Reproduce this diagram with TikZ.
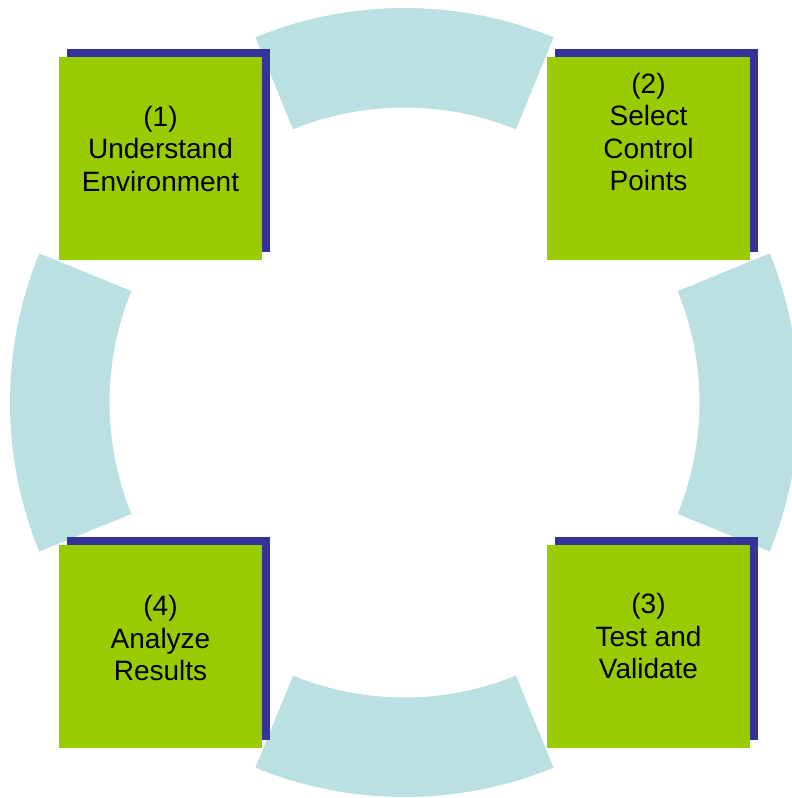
\documentclass[tikz,border=0pt]{standalone}
\usepackage{fontspec}
\setmainfont{Liberation Sans}
\usetikzlibrary{calc}
\definecolor{boxgreen}{HTML}{99CC00}
\definecolor{boxshadow}{HTML}{333399}
\definecolor{ringblue}{HTML}{BAE0E3}
\newcommand{\steplines}[1]{\vtop{\baselineskip=32.5pt\lineskiplimit=-100pt\halign{\hfil##\hfil\cr#1\cr}}}
\begin{document}
\begin{tikzpicture}[x=1pt,y=1pt,
  shadowbox/.style={fill=boxshadow, draw=none, minimum width=203pt, minimum height=203pt, inner sep=0pt},
  greenbox/.style={fill=boxgreen, draw=none, minimum width=203pt, minimum height=203pt, inner sep=0pt},
  steptext/.style={anchor=base, inner sep=0pt, font=\fontsize{28}{32.5}\selectfont, text=black},
  ringseg/.style={fill=ringblue, draw=none}]
\useasboundingbox (0,0) rectangle (792,798);
\fill[white] (0,0) rectangle (792,798);
\coordinate (C) at (404.5,395.5);
% ring segments
\foreach \a/\nm in {90/top,0/right,270/bottom,180/left}{
  \fill[ringseg] ($(C)+(\a-22.2:394.5pt)$) arc[start angle=\a-22.2, end angle=\a+22.2, radius=394.5pt]
    -- ($(C)+(\a+22.2:295pt)$) arc[start angle=\a+22.2, end angle=\a-22.2, radius=295pt] -- cycle;
}
% boxes
\node[shadowbox] (h1) at (168.5,647.5) {};
\node[greenbox] (s1) at (160.5,639.5) {};
\node[shadowbox] (h2) at (656.5,647.5) {};
\node[greenbox] (s2) at (648.5,639.5) {};
\node[shadowbox] (h3) at (656.5,159.5) {};
\node[greenbox] (s3) at (648.5,151.5) {};
\node[shadowbox] (h4) at (168.5,159.5) {};
\node[greenbox] (s4) at (160.5,151.5) {};
% texts
\node[steptext] (t1) at (160.5,671.5) {\steplines{(1)\cr Understand\cr Environment}};
\node[steptext] (t2) at (648.5,704.5) {\steplines{(2)\cr Select\cr Control\cr Points}};
\node[steptext] (t3) at (648.5,184) {\steplines{(3)\cr Test and\cr Validate}};
\node[steptext] (t4) at (160.5,182) {\steplines{(4)\cr Analyze\cr Results}};
\end{tikzpicture}
\end{document}
